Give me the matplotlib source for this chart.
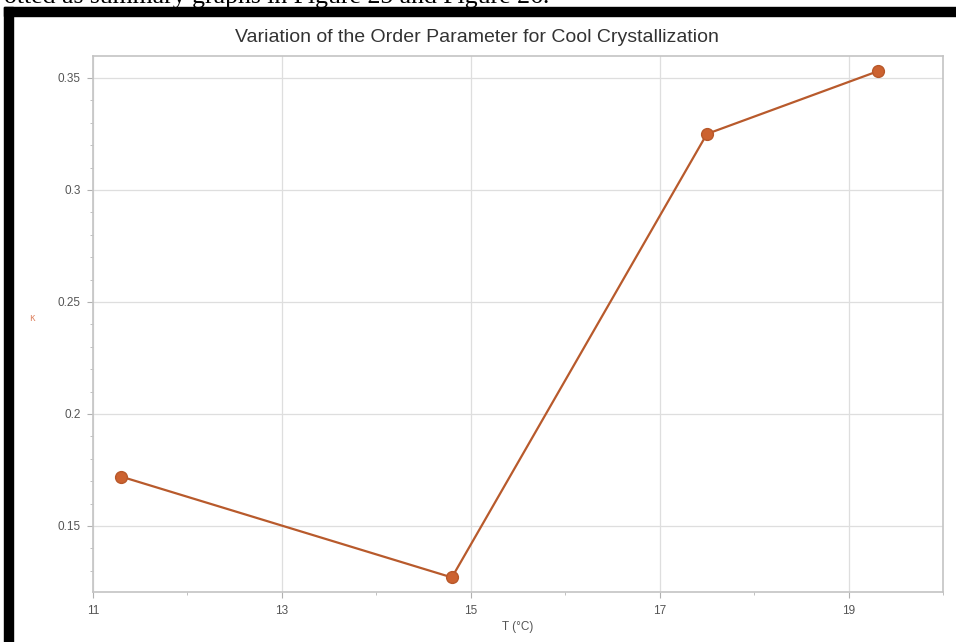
import matplotlib
matplotlib.use("Agg")
import matplotlib.pyplot as plt
from matplotlib.patches import Rectangle
from matplotlib.ticker import MultipleLocator

# order parameter vs temperature, cool crystallization runs
temps = [11.3, 14.8, 17.5, 19.31]
order_param = [0.172, 0.127, 0.325, 0.353]

x_ticks = [11, 13, 15, 17, 19]
y_ticks = [0.15, 0.2, 0.25, 0.3, 0.35]
y_tick_labels = ["0.15", "0.2", "0.25", "0.3", "0.35"]

W, H = 956, 642
fig = plt.figure(figsize=(W / 100, H / 100), dpi=100)
fig.patch.set_facecolor("white")

# leftover line of the surrounding document, cut off at the top
fig.text(4 / W, 1 - 3 / H, "otted as summary graphs in Figure 25 and Figure 26.",
         family="Liberation Serif", fontsize=18.5, color="black",
         ha="left", va="baseline")

# thick black frame (top and left)
fig.patches.append(Rectangle((4 / W, 0), 9 / W, 1 - 7 / H, transform=fig.transFigure,
                             color="black", zorder=5))
fig.patches.append(Rectangle((4 / W, 1 - 16 / H), 1 - 4 / W, 9 / H, transform=fig.transFigure,
                             color="black", zorder=5))

ax = fig.add_axes([93 / W, 50 / H, 850 / W, 536 / H])

ax.plot(temps, order_param, color="#b85a2c", linewidth=1.6, zorder=3)
ax.plot(temps, order_param, linestyle="none", marker="o", markersize=8.5,
        markerfacecolor="#cc6230", markeredgecolor="#b8582a", zorder=4)

ax.set_xlim(11, 20)
ax.set_ylim(0.1205, 0.3598)
ax.set_xticks(x_ticks)
ax.set_xticklabels([str(t) for t in x_ticks])
ax.set_yticks(y_ticks)
ax.set_yticklabels(y_tick_labels)
ax.xaxis.set_minor_locator(MultipleLocator(1))
ax.yaxis.set_minor_locator(MultipleLocator(0.01))

ax.grid(True, which="major", color="#dedede", linewidth=0.9)
ax.set_axisbelow(True)
for s in ax.spines.values():
    s.set_color("#c4c4c4")
    s.set_linewidth(1.2)

ax.tick_params(which="major", length=4, width=0.8, color="#b0b0b0",
               labelsize=8.5, labelcolor="#555555", pad=5)
ax.tick_params(which="minor", length=2.5, width=0.7, color="#c0c0c0")
for lab in ax.get_xticklabels() + ax.get_yticklabels():
    lab.set_family("Liberation Sans")

ax.set_xlabel("T (°C)", family="Liberation Sans", fontsize=8.5, color="#555555", labelpad=3)
fig.text(32 / W, 1 - 318 / H, "κ", family="DejaVu Sans", fontsize=7,
         color="#e08a6a", ha="center", va="center")

fig.text(477 / W, 1 - 37 / H, "Variation of the Order Parameter for Cool Crystallization",
         family="Liberation Sans", fontsize=14, color="#333333",
         ha="center", va="center")

fig.savefig("out.png", dpi=100, facecolor="white")
